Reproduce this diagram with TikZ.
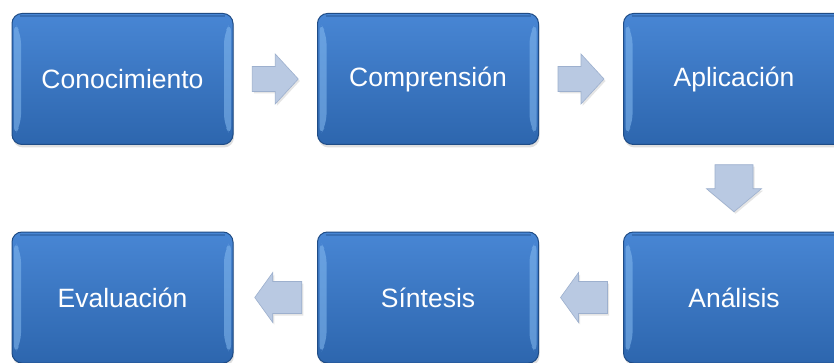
\documentclass[tikz,border=0pt]{standalone}
\usepackage{fontspec}
\setmainfont{Liberation Sans}
\usetikzlibrary{shadows,calc}
\definecolor{cajaarriba}{HTML}{4886D4}
\definecolor{cajaabajo}{HTML}{2D66AE}
\definecolor{cajaborde}{HTML}{1F4C86}
\definecolor{cajabrillo}{HTML}{86BBF0}
\definecolor{flecha}{HTML}{B9C9E2}
\definecolor{flechaborde}{HTML}{9DB0CE}
\begin{document}
\begin{tikzpicture}[x=1pt,y=-1pt]
			\tikzset{etapa/.style={rectangle, rounded corners=10pt, draw=cajaborde, line width=1pt,
					top color=cajaarriba, bottom color=cajaabajo, minimum width=221pt, minimum height=131pt,
					text=white, font=\fontsize{26.5}{30}\selectfont,
					drop shadow={opacity=0.25, shadow xshift=1pt, shadow yshift=-3pt},
					path picture={
						\fill[cajabrillo, opacity=0.55] ([xshift=2pt,yshift=-8pt]path picture bounding box.north west) -- ([xshift=9pt,yshift=-20pt]path picture bounding box.north west) -- ([xshift=9pt,yshift=20pt]path picture bounding box.south west) -- ([xshift=2pt,yshift=8pt]path picture bounding box.south west) -- cycle;
						\fill[cajabrillo, opacity=0.55] ([xshift=-2pt,yshift=-8pt]path picture bounding box.north east) -- ([xshift=-9pt,yshift=-20pt]path picture bounding box.north east) -- ([xshift=-9pt,yshift=20pt]path picture bounding box.south east) -- ([xshift=-2pt,yshift=8pt]path picture bounding box.south east) -- cycle;
						\draw[cajaborde, opacity=0.4, line width=2pt] ([xshift=8pt,yshift=-3pt]path picture bounding box.north west) -- ([xshift=-8pt,yshift=-3pt]path picture bounding box.north east);
					}}}
			\tikzset{bloque/.style={draw=flechaborde, fill=flecha, line width=0.6pt, line join=miter,
					drop shadow={opacity=0.2, shadow xshift=1.5pt, shadow yshift=-2pt}}}
			\clip (0,0) rectangle (834,363);
			\fill[white] (0,0) rectangle (834,363);

			\node[etapa] at (122.5, 79) (conoc) {Conocimiento};
			\node[etapa] at (428, 79) (compr) {Comprensión};
			\node[etapa] at (734, 79) (aplic) {Aplicación};
			\node[etapa] at (734, 297.5) (analis) {Análisis};
			\node[etapa] at (428, 297.5) (sintes) {Síntesis};
			\node[etapa] at (122.5, 297.5) (evalua) {Evaluación};

			\coordinate (f1) at ($(conoc.east)!0.5!(compr.west)$);
			\coordinate (f2) at ($(compr.east)!0.5!(aplic.west)$);
			\coordinate (f3) at ($(aplic.south)!0.5!(analis.north)$);
			\coordinate (f4) at ($(analis.west)!0.5!(sintes.east)+(3,0)$);
			\coordinate (f5) at ($(sintes.west)!0.5!(evalua.east)+(3,0)$);

			% Arrows
			\draw[bloque, shift={(f1)}] (-23,-12.5) -- (0,-12.5) -- (0,-25) -- (23,0) -- (0,25) -- (0,12.5) -- (-23,12.5) -- cycle;
			\draw[bloque, shift={(f2)}] (-23,-12.5) -- (0,-12.5) -- (0,-25) -- (23,0) -- (0,25) -- (0,12.5) -- (-23,12.5) -- cycle;
			\draw[bloque, shift={(f3)}] (-19,-23.5) -- (-19,0.5) -- (-27.5,0.5) -- (0,23.5) -- (27.5,0.5) -- (19,0.5) -- (19,-23.5) -- cycle;
			\draw[bloque, shift={(f4)}] (23.5,-16) -- (-5.5,-16) -- (-5.5,-25) -- (-23.5,0) -- (-5.5,25) -- (-5.5,16) -- (23.5,16) -- cycle;
			\draw[bloque, shift={(f5)}] (23.5,-16) -- (-5.5,-16) -- (-5.5,-25) -- (-23.5,0) -- (-5.5,25) -- (-5.5,16) -- (23.5,16) -- cycle;
		\end{tikzpicture}
\end{document}
